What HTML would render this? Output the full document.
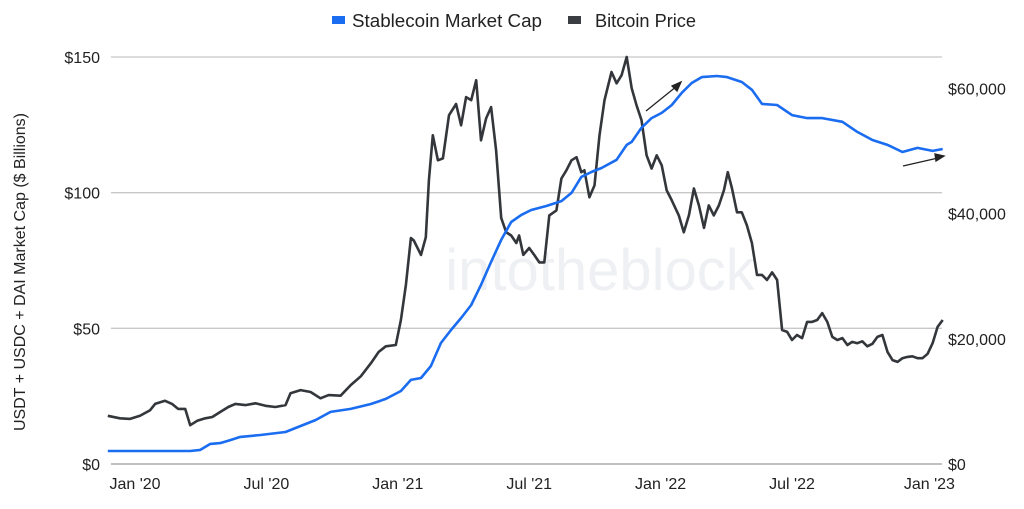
<!DOCTYPE html>
<html><head><meta charset="utf-8"><style>
html,body{margin:0;padding:0;background:#fff;}
svg{display:block;font-family:"Liberation Sans",sans-serif;}
</style></head><body>
<svg id="chart" width="1024" height="509" xmlns="http://www.w3.org/2000/svg">
<text x="600" y="290" font-size="58" fill="#eef0f3" text-anchor="middle">intotheblock</text>
<g id="grid"></g>
<g id="axes"></g>
<g id="series"></g>
<g>
<g><rect x="332" y="16" width="13" height="8" fill="#1a6cf0"/><text x="352" y="27" font-size="18" fill="#222" textLength="190" lengthAdjust="spacingAndGlyphs">Stablecoin Market Cap</text></g>
<g><rect x="568" y="16" width="13" height="8" fill="#3a3d42"/><text x="595" y="27" font-size="18" fill="#222" textLength="101" lengthAdjust="spacingAndGlyphs">Bitcoin Price</text></g>
</g>
<text transform="translate(25,272) rotate(-90)" font-size="16" fill="#222" text-anchor="middle">USDT + USDC + DAI Market Cap ($ Billions)</text>
<g stroke="#222" stroke-width="1.3" fill="#222">
<line x1="646" y1="111" x2="677" y2="86"/><polygon points="681,82 672,86 677,91"/>
<line x1="903" y1="166" x2="938" y2="158"/><polygon points="944,156 935,154 936,161"/>
</g>
</svg>
<script>
const leftTicks=[0,50,100,150];
const leftTickLabels=["$0","$50","$100","$150"];
const rightTicks=[0,20,40,60];
const rightTickLabels=["$0","$20,000","$40,000","$60,000"];
const xTickMonths=[0,6,12,18,24,30,36];
const xTickLabels=["Jan  '20","Jul  '20","Jan  '21","Jul  '21","Jan  '22","Jul  '22","Jan  '23"];
const btcMonths=[-1.24,-0.69,-0.23,0.23,0.69,0.92,1.37,1.69,1.97,2.29,2.52,2.84,3.21,3.53,3.89,4.26,4.58,5.04,5.50,5.96,6.41,6.87,7.10,7.56,8.02,8.47,8.84,9.39,9.85,10.31,10.77,11.13,11.45,11.91,12.14,12.37,12.60,12.73,13.06,13.28,13.42,13.60,13.83,14.06,14.34,14.66,14.89,15.12,15.35,15.58,15.80,16.03,16.26,16.49,16.72,16.95,17.18,17.41,17.54,17.73,18.00,18.23,18.46,18.69,18.92,19.24,19.47,19.70,19.93,20.16,20.38,20.52,20.75,20.98,21.21,21.44,21.76,21.99,22.22,22.45,22.68,22.90,23.13,23.36,23.59,23.82,24.05,24.28,24.51,24.83,25.06,25.29,25.52,25.75,25.98,26.20,26.43,26.66,26.89,27.07,27.26,27.49,27.71,27.94,28.17,28.40,28.63,28.86,29.09,29.32,29.55,29.78,30.00,30.23,30.46,30.69,30.92,31.15,31.38,31.61,31.84,32.07,32.30,32.53,32.75,32.98,33.21,33.44,33.67,33.90,34.13,34.36,34.59,34.82,35.04,35.27,35.50,35.73,35.96,36.19,36.42,36.65,36.88];
const btcPrice=[7.7,7.3,7.2,7.7,8.6,9.6,10.1,9.6,8.8,8.8,6.2,6.9,7.3,7.5,8.3,9.1,9.6,9.4,9.7,9.3,9.1,9.4,11.3,11.8,11.5,10.5,11.0,10.9,12.6,14.0,16.1,17.9,18.8,19.0,23.0,28.6,36.1,35.7,33.4,36.2,45.3,52.5,48.5,48.8,55.7,57.5,54.1,58.6,58.1,61.3,51.7,55.2,57.0,50.1,39.3,37.0,36.5,35.3,36.5,33.4,34.5,33.4,32.2,32.2,39.7,40.5,45.6,46.9,48.5,49.0,46.6,46.9,42.6,44.5,52.5,58.1,62.6,60.8,62.1,65.0,60.0,57.3,54.9,49.3,47.2,49.3,47.7,43.7,42.1,39.7,37.0,39.7,44.0,41.3,37.7,41.3,39.7,41.3,43.7,46.6,44.0,40.2,40.2,38.1,35.3,30.2,30.2,29.4,30.6,29.4,21.4,21.1,19.8,20.6,20.1,22.7,22.7,23.0,24.1,22.7,20.3,19.8,20.1,19.0,19.5,19.3,19.6,18.8,19.2,20.3,20.6,17.9,16.6,16.3,16.9,17.1,17.2,16.9,16.9,17.6,19.3,21.9,23.0];
const stableMonths=[-1.24,2.52,2.98,3.44,3.89,4.35,4.81,5.73,6.87,7.56,8.25,8.93,9.85,10.77,11.45,12.14,12.60,13.06,13.51,13.97,14.43,14.89,15.35,15.80,16.26,16.72,17.18,17.64,18.09,18.78,19.47,19.93,20.38,20.84,21.30,21.99,22.45,22.68,23.13,23.59,24.05,24.51,24.97,25.42,25.88,26.57,27.03,27.71,28.17,28.63,29.32,30.00,30.69,31.38,32.30,32.98,33.67,34.36,35.04,35.73,36.42,36.88];
const stableCap=[4.8,4.8,5.2,7.4,7.7,8.8,10.0,10.7,11.8,14.0,16.2,19.2,20.3,22.1,24.0,26.9,31.0,31.7,36.1,44.6,49.4,53.8,58.6,66.0,74.5,82.6,89.2,91.8,93.6,95.1,96.9,99.9,105.8,107.6,109.1,112.1,117.6,118.7,123.9,127.5,129.4,132.3,136.8,140.4,142.6,143.0,142.6,140.8,137.9,132.7,132.3,128.6,127.5,127.5,126.1,122.4,119.4,117.6,115.0,116.5,115.4,116.1];

const NS="http://www.w3.org/2000/svg";
const X0=111,X1=942,Y0=464,Y150=57;
const xs=m=>135+m*21.9;
const yl=v=>Y0-(v/150)*(Y0-Y150);
const yr=v=>Y0-(v/65)*(Y0-Y150);
function mk(tag,attrs,parent){const e=document.createElementNS(NS,tag);for(const k in attrs)e.setAttribute(k,attrs[k]);parent.appendChild(e);return e;}
const grid=document.getElementById('grid'),axes=document.getElementById('axes'),series=document.getElementById('series');
leftTicks.forEach((v,i)=>{
  const l=mk('line',{x1:X0,x2:X1,y1:yl(v),y2:yl(v),stroke:v===0?'#9a9a9a':'#c8c8c8','stroke-width':1.3},grid);
  
  
  const t=mk('text',{x:100,y:yl(v)+6,'font-size':16,fill:'#222','text-anchor':'end'},axes);
  t.textContent=leftTickLabels[i];
  
  
});
rightTicks.forEach((v,i)=>{
  const t=mk('text',{x:948,y:yr(v)+6,'font-size':16,fill:'#222'},axes);
  t.textContent=rightTickLabels[i];
  
  
});
xTickMonths.forEach((m,i)=>{
  const t=mk('text',{x:xs(m)+(i===6?6:0),y:489,'font-size':16,fill:'#222','text-anchor':'middle','xml:space':'preserve'},axes);
  t.textContent=xTickLabels[i];
  
  
});
const bp=btcMonths.map((m,i)=>xs(m).toFixed(1)+','+yr(btcPrice[i]).toFixed(1)).join(' ');
const b=mk('polyline',{points:bp,fill:'none',stroke:'#33363b','stroke-width':2.6,'stroke-linejoin':'round'},series);


const sp=stableMonths.map((m,i)=>xs(m).toFixed(1)+','+yl(stableCap[i]).toFixed(1)).join(' ');
const s=mk('polyline',{points:sp,fill:'none',stroke:'#1a6cf0','stroke-width':2.6,'stroke-linejoin':'round'},series);


</script>
</body></html>
